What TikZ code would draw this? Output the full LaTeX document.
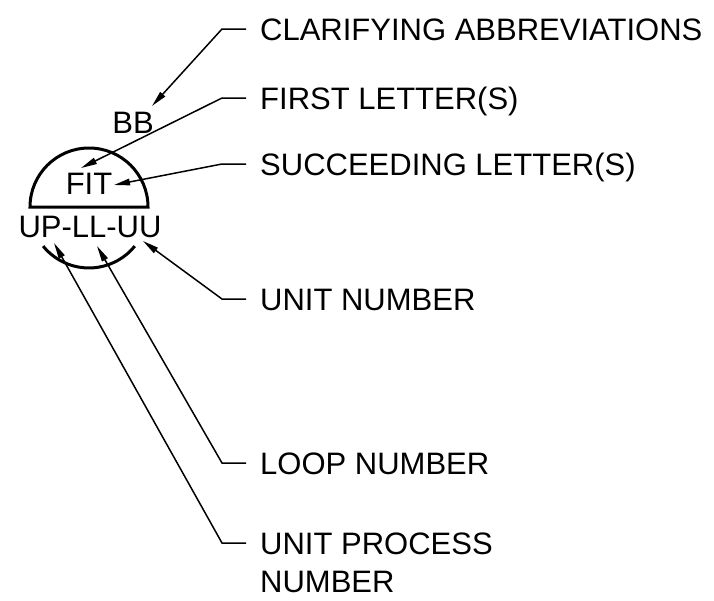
\documentclass[tikz,border=0pt]{standalone}
\usepackage{fontspec}
\setmainfont{Liberation Sans}
\usetikzlibrary{arrows.meta}
\begin{document}
\begin{tikzpicture}[x=1pt,y=-1pt,
  txt/.style={inner sep=0pt,font=\fontsize{31}{38}\selectfont},
  lab/.style={txt,anchor=base west,align=left},
  leader/.style={line width=1.5pt,-{Triangle[length=16pt,width=6.5pt]}},
  bubble/.style={line width=3pt}]
\useasboundingbox (0,0) rectangle (714,600);

% instrument bubble: upper half with flat base, lower arc below the tag
% (y axis points down, so angles run the other way)
\draw[bubble] (30,207) arc[start angle=180,end angle=360,radius=59] -- cycle;
\draw[bubble] (43.1,246.1) arc[start angle=141,end angle=39,radius=59];

% texts inside and around the bubble
\node[txt,anchor=base] (bb)  at (133,133) {BB};
\node[txt,anchor=base] (fit) at (89,194) {FIT};
\node[txt,anchor=base] (tag) at (90,237) {UP-LL-UU};

% callout labels
\node[lab] (l1) at (260,40)  {CLARIFYING ABBREVIATIONS};
\node[lab] (l2) at (260,109) {FIRST LETTER(S)};
\node[lab] (l3) at (260,175) {SUCCEEDING LETTER(S)};
\node[lab] (l4) at (260,310) {UNIT NUMBER};
\node[lab] (l5) at (260,474) {LOOP NUMBER};
\node[lab] (l6) at (260,592) {UNIT PROCESS\\NUMBER};

% knees of the leaders
\coordinate (k1) at (222,29);
\coordinate (k2) at (222,98);
\coordinate (k3) at (222,164);
\coordinate (k4) at (222,299);
\coordinate (k5) at (222,463);
\coordinate (k6) at (222,543);

% arrow targets
\coordinate (t1) at (152,106);
\coordinate (t2) at (81,168);
\coordinate (t3) at (114,185);
\coordinate (t4) at (143,241);
\coordinate (t5) at (97,246);
\coordinate (t6) at (54,243);

\foreach \i in {1,...,6}
  \draw[leader] ([xshift=-14pt]l\i.base west |- k\i) -- (k\i) -- (t\i);
\end{tikzpicture}
\end{document}
